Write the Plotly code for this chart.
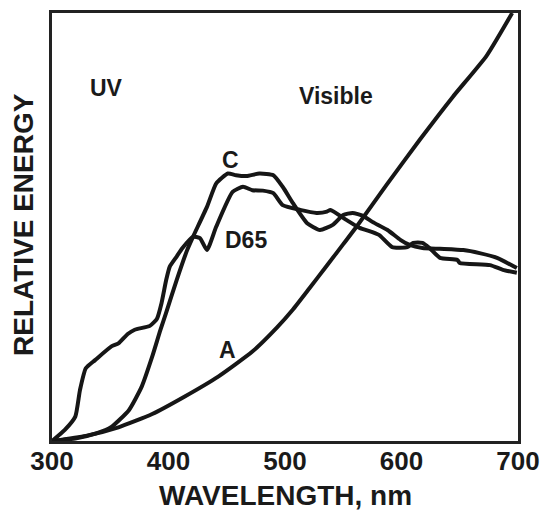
import plotly.graph_objects as go

# Wavelength (nm) / relative energy (0-100 of plot height)
wl_A = [300, 329, 357, 386, 414, 443, 472, 493, 507, 521, 536, 550, 562, 587, 616, 644, 673, 695]
en_A = [0, 1.2, 3.2, 6.3, 10.4, 15.1, 20.9, 26.5, 30.8, 35.7, 41.0, 46.0, 50.3, 59.8, 70.5, 80.4, 90.0, 100]

wl_C = [300, 320, 338, 351, 366, 377, 386, 393, 398, 407, 416, 421, 433, 441, 451, 458, 467,
        478, 490, 498, 507, 519, 530, 541, 550, 558, 567, 575, 588, 599, 607, 618,
        633, 653, 667, 682, 699]
en_C = [0, 0.6, 1.8, 3.3, 7.2, 12.7, 19.7, 25.9, 30.0, 37.6, 44.6, 47.7, 54.7, 60.2, 62.5, 62.1, 61.9,
        62.5, 62.1, 59.4, 55.5, 50.9, 49.3, 50.5, 52.8, 53.3, 52.6, 51.2, 49.3, 47.0, 45.8, 45.1,
        44.9, 44.6, 43.9, 42.8, 40.4]

wl_D65 = [300, 311, 320, 324, 329, 337, 351, 357, 365, 371, 384, 390, 394,
          398, 401, 407, 412, 421, 427, 433, 441, 455, 464, 472, 481, 490, 498, 513,
          527, 536, 539, 553, 564, 575, 581, 592, 605, 610, 618, 624, 633, 648, 650,
          676, 687, 699]
en_D65 = [0, 2.6, 5.7, 11.9, 17.0, 18.9, 22.1, 22.8, 25.0, 26.0, 26.9, 28.5, 32.2,
          37.6, 40.7, 43.1, 45.1, 47.7, 47.4, 44.6, 50.1, 58.2, 59.4, 58.6, 58.5, 57.9, 55.1, 54.0,
          53.3, 53.6, 54.0, 51.6, 49.8, 48.8, 48.1, 45.3, 45.3, 46.3, 46.3, 45.1, 42.8, 42.3, 41.6,
          41.1, 40.0, 39.3]

x_ticks = [300, 400, 500, 600, 700]

LINE = dict(color="#161616", width=4, shape="spline", smoothing=0.5)
FONT = "Liberation Sans, Arial, Helvetica, sans-serif"
INK = "#1a1a1a"

fig = go.Figure()
for wl, en, name in [(wl_A, en_A, "A"), (wl_C, en_C, "C"), (wl_D65, en_D65, "D65")]:
    fig.add_trace(go.Scatter(x=wl, y=en, mode="lines", line=LINE, name=name,
                             showlegend=False, hoverinfo="skip", cliponaxis=True))

labels = [("UV", 106, 88), ("Visible", 336, 96), ("C", 230, 160), ("D65", 246, 240), ("A", 227, 350)]
for text, px, py in labels:
    fig.add_annotation(x=300 + (px - 52) / 1.165, y=(441 - py) / 4.28, text=text,
                       showarrow=False, xref="x", yref="y", xanchor="center", yanchor="middle",
                       font=dict(family=FONT, size=23, color=INK, weight="bold"))

# axis titles placed as paper-anchored annotations
fig.add_annotation(x=(285 - 52) / 466, y=(441 - 495) / 428, xref="paper", yref="paper",
                   xanchor="center", yanchor="middle",
                   text="WAVELENGTH, nm", showarrow=False,
                   font=dict(family=FONT, size=28, color=INK, weight="bold"))
fig.add_annotation(x=(23 - 52) / 466, y=(441 - 225) / 428, xref="paper", yref="paper",
                   xanchor="center", yanchor="middle",
                   text="RELATIVE ENERGY", showarrow=False, textangle=-90,
                   font=dict(family=FONT, size=28, color=INK, weight="bold"))

fig.update_layout(
    width=544, height=511,
    margin=dict(l=52, r=26, t=13, b=70, autoexpand=False),
    paper_bgcolor="white", plot_bgcolor="white",
    font=dict(family=FONT, color=INK),
    xaxis=dict(range=[300, 700], tickvals=x_ticks, ticktext=[str(v) for v in x_ticks],
               showgrid=False, zeroline=False, ticks="", automargin=False,
               ticklabelstandoff=-5,
               showline=True, linecolor="#222", linewidth=2.5, mirror=True,
               tickfont=dict(family=FONT, size=26, color=INK, weight="bold")),
    yaxis=dict(range=[0, 100], showticklabels=False, showgrid=False, zeroline=False, ticks="",
               automargin=False,
               showline=True, linecolor="#222", linewidth=2.5, mirror=True),
)

fig.write_html("out.html", config={"displayModeBar": False},
               post_script="document.body.style.margin='0';document.body.style.overflow='hidden';")
